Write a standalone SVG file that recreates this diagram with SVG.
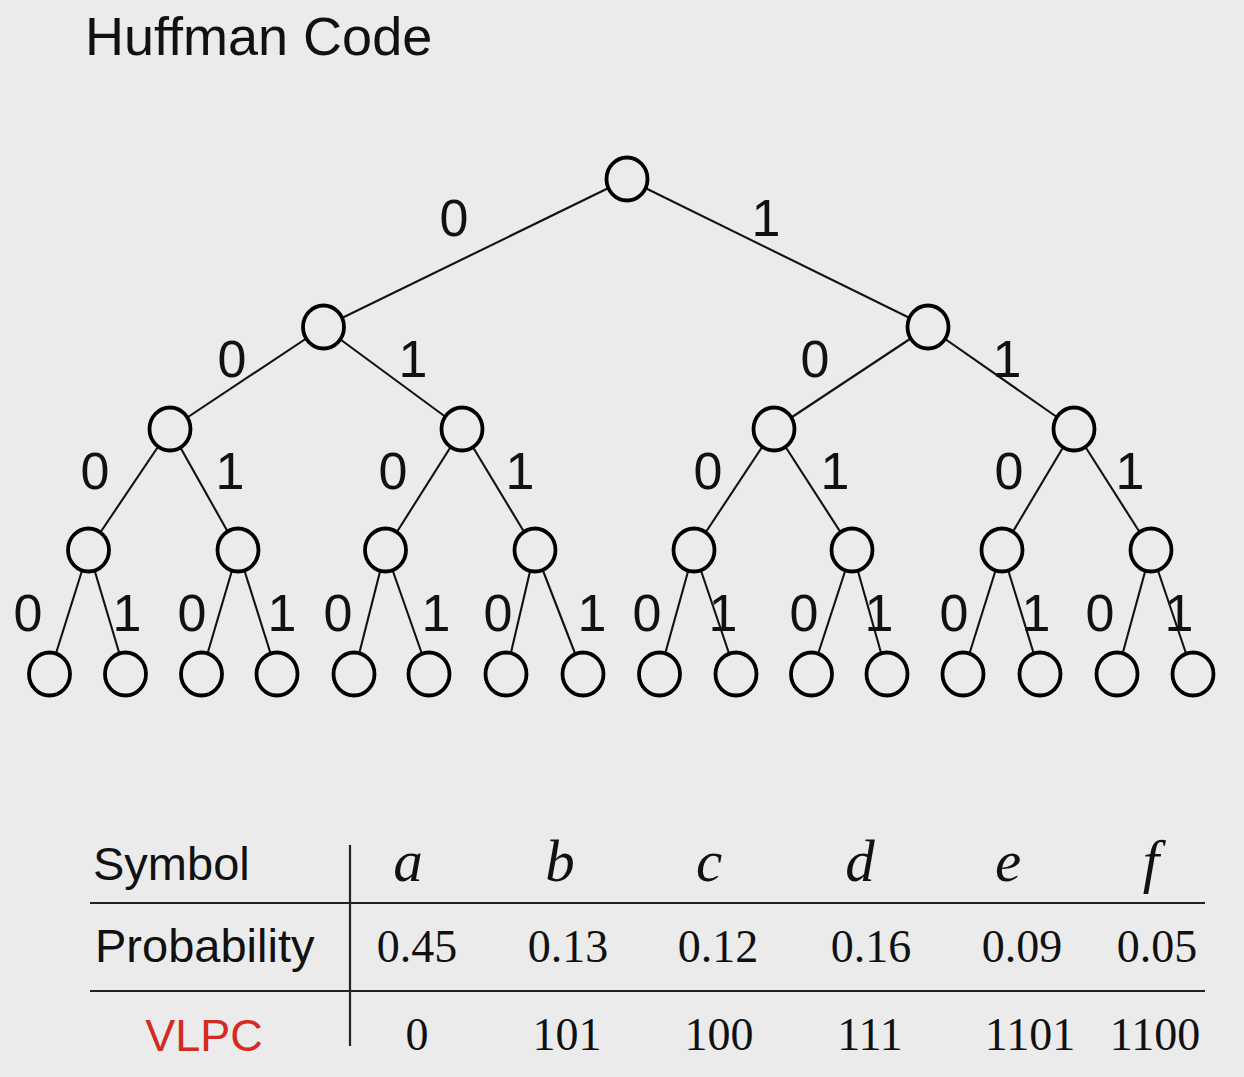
<svg xmlns="http://www.w3.org/2000/svg" width="1244" height="1077" viewBox="0 0 1244 1077">
<style>
.bg{fill:#ebebeb}
.edge{stroke:#111;stroke-width:2.1;fill:none}
.node{fill:#ebebeb;stroke:#000;stroke-width:3.8}
.lbl{font-family:"Liberation Sans",Arial,sans-serif;font-size:52px;fill:#111;text-anchor:middle}
.title{font-family:"Liberation Sans",Arial,sans-serif;font-size:54px;fill:#111}
.hdr{font-family:"Liberation Sans",Arial,sans-serif;font-size:47px;fill:#111}
.sym{font-family:"Liberation Serif","Times New Roman",serif;font-style:italic;font-size:59px;fill:#111;text-anchor:middle}
.num{font-family:"Liberation Serif","Times New Roman",serif;font-size:46px;fill:#111;text-anchor:middle}
.rule{stroke:#222;stroke-width:2.2}
</style>
<rect class="bg" x="0" y="0" width="1244" height="1077"/>
<text class="title" x="85" y="55">Huffman Code</text>
<g id="connectors">
<line class="edge" x1="627" y1="179" x2="323.5" y2="327"/>
<line class="edge" x1="627" y1="179" x2="928" y2="327"/>
<line class="edge" x1="323.5" y1="327" x2="170" y2="429"/>
<line class="edge" x1="323.5" y1="327" x2="462" y2="429"/>
<line class="edge" x1="928" y1="327" x2="774" y2="429"/>
<line class="edge" x1="928" y1="327" x2="1074" y2="429"/>
<line class="edge" x1="170" y1="429" x2="88.5" y2="550"/>
<line class="edge" x1="170" y1="429" x2="238" y2="550"/>
<line class="edge" x1="462" y1="429" x2="385.5" y2="550"/>
<line class="edge" x1="462" y1="429" x2="535" y2="550"/>
<line class="edge" x1="774" y1="429" x2="694" y2="550"/>
<line class="edge" x1="774" y1="429" x2="852" y2="550"/>
<line class="edge" x1="1074" y1="429" x2="1002" y2="550"/>
<line class="edge" x1="1074" y1="429" x2="1151" y2="550"/>
<line class="edge" x1="88.5" y1="550" x2="49.5" y2="674"/>
<line class="edge" x1="88.5" y1="550" x2="125.5" y2="674"/>
<line class="edge" x1="238" y1="550" x2="201.5" y2="674"/>
<line class="edge" x1="238" y1="550" x2="277" y2="674"/>
<line class="edge" x1="385.5" y1="550" x2="354" y2="674"/>
<line class="edge" x1="385.5" y1="550" x2="429" y2="674"/>
<line class="edge" x1="535" y1="550" x2="506" y2="674"/>
<line class="edge" x1="535" y1="550" x2="583" y2="674"/>
<line class="edge" x1="694" y1="550" x2="659.5" y2="674"/>
<line class="edge" x1="694" y1="550" x2="736" y2="674"/>
<line class="edge" x1="852" y1="550" x2="811.5" y2="674"/>
<line class="edge" x1="852" y1="550" x2="887" y2="674"/>
<line class="edge" x1="1002" y1="550" x2="963" y2="674"/>
<line class="edge" x1="1002" y1="550" x2="1040" y2="674"/>
<line class="edge" x1="1151" y1="550" x2="1117" y2="674"/>
<line class="edge" x1="1151" y1="550" x2="1193" y2="674"/>
</g>
<g id="edge-labels">
<text class="lbl" x="454" y="236">0</text>
<text class="lbl" x="766" y="236">1</text>
<text class="lbl" x="232" y="377">0</text>
<text class="lbl" x="413" y="377">1</text>
<text class="lbl" x="815" y="377">0</text>
<text class="lbl" x="1007" y="377">1</text>
<text class="lbl" x="95" y="489">0</text>
<text class="lbl" x="230" y="489">1</text>
<text class="lbl" x="393" y="489">0</text>
<text class="lbl" x="520" y="489">1</text>
<text class="lbl" x="708" y="489">0</text>
<text class="lbl" x="835" y="489">1</text>
<text class="lbl" x="1009" y="489">0</text>
<text class="lbl" x="1130" y="489">1</text>
<text class="lbl" x="28" y="631">0</text>
<text class="lbl" x="127" y="631">1</text>
<text class="lbl" x="192" y="631">0</text>
<text class="lbl" x="282" y="631">1</text>
<text class="lbl" x="338" y="631">0</text>
<text class="lbl" x="436" y="631">1</text>
<text class="lbl" x="498" y="631">0</text>
<text class="lbl" x="592" y="631">1</text>
<text class="lbl" x="647" y="631">0</text>
<text class="lbl" x="723" y="631">1</text>
<text class="lbl" x="804" y="631">0</text>
<text class="lbl" x="879" y="631">1</text>
<text class="lbl" x="954" y="631">0</text>
<text class="lbl" x="1036" y="631">1</text>
<text class="lbl" x="1100" y="631">0</text>
<text class="lbl" x="1179" y="631">1</text>
</g>
<g id="n0"><ellipse class="node" cx="627" cy="179" rx="20.5" ry="21.5"/></g>
<g id="n1"><ellipse class="node" cx="323.5" cy="327" rx="20.5" ry="21.5"/></g>
<g id="n2"><ellipse class="node" cx="928" cy="327" rx="20.5" ry="21.5"/></g>
<g id="n3"><ellipse class="node" cx="170" cy="429" rx="20.5" ry="21.5"/></g>
<g id="n4"><ellipse class="node" cx="462" cy="429" rx="20.5" ry="21.5"/></g>
<g id="n5"><ellipse class="node" cx="774" cy="429" rx="20.5" ry="21.5"/></g>
<g id="n6"><ellipse class="node" cx="1074" cy="429" rx="20.5" ry="21.5"/></g>
<g id="n7"><ellipse class="node" cx="88.5" cy="550" rx="20.5" ry="21.5"/></g>
<g id="n8"><ellipse class="node" cx="238" cy="550" rx="20.5" ry="21.5"/></g>
<g id="n9"><ellipse class="node" cx="385.5" cy="550" rx="20.5" ry="21.5"/></g>
<g id="n10"><ellipse class="node" cx="535" cy="550" rx="20.5" ry="21.5"/></g>
<g id="n11"><ellipse class="node" cx="694" cy="550" rx="20.5" ry="21.5"/></g>
<g id="n12"><ellipse class="node" cx="852" cy="550" rx="20.5" ry="21.5"/></g>
<g id="n13"><ellipse class="node" cx="1002" cy="550" rx="20.5" ry="21.5"/></g>
<g id="n14"><ellipse class="node" cx="1151" cy="550" rx="20.5" ry="21.5"/></g>
<g id="n15"><ellipse class="node" cx="49.5" cy="674" rx="20.5" ry="21.5"/></g>
<g id="n16"><ellipse class="node" cx="125.5" cy="674" rx="20.5" ry="21.5"/></g>
<g id="n17"><ellipse class="node" cx="201.5" cy="674" rx="20.5" ry="21.5"/></g>
<g id="n18"><ellipse class="node" cx="277" cy="674" rx="20.5" ry="21.5"/></g>
<g id="n19"><ellipse class="node" cx="354" cy="674" rx="20.5" ry="21.5"/></g>
<g id="n20"><ellipse class="node" cx="429" cy="674" rx="20.5" ry="21.5"/></g>
<g id="n21"><ellipse class="node" cx="506" cy="674" rx="20.5" ry="21.5"/></g>
<g id="n22"><ellipse class="node" cx="583" cy="674" rx="20.5" ry="21.5"/></g>
<g id="n23"><ellipse class="node" cx="659.5" cy="674" rx="20.5" ry="21.5"/></g>
<g id="n24"><ellipse class="node" cx="736" cy="674" rx="20.5" ry="21.5"/></g>
<g id="n25"><ellipse class="node" cx="811.5" cy="674" rx="20.5" ry="21.5"/></g>
<g id="n26"><ellipse class="node" cx="887" cy="674" rx="20.5" ry="21.5"/></g>
<g id="n27"><ellipse class="node" cx="963" cy="674" rx="20.5" ry="21.5"/></g>
<g id="n28"><ellipse class="node" cx="1040" cy="674" rx="20.5" ry="21.5"/></g>
<g id="n29"><ellipse class="node" cx="1117" cy="674" rx="20.5" ry="21.5"/></g>
<g id="n30"><ellipse class="node" cx="1193" cy="674" rx="20.5" ry="21.5"/></g>
<g id="table">
<line class="rule" x1="90" y1="903" x2="1205" y2="903"/>
<line class="rule" x1="90" y1="991" x2="1205" y2="991"/>
<line class="rule" x1="350" y1="845" x2="350" y2="1046"/>
<text class="hdr" x="93" y="880">Symbol</text>
<text class="hdr" x="95" y="962">Probability</text>
<text class="hdr" x="204" y="1051" text-anchor="middle" style="fill:#d42a1f;font-size:45px">VLPC</text>
<text class="sym" x="408" y="881">a</text>
<text class="sym" x="560" y="881">b</text>
<text class="sym" x="709" y="881">c</text>
<text class="sym" x="860" y="881">d</text>
<text class="sym" x="1008" y="881">e</text>
<text class="sym" x="1151" y="881">f</text>
<text class="num" x="417" y="962">0.45</text>
<text class="num" x="568" y="962">0.13</text>
<text class="num" x="718" y="962">0.12</text>
<text class="num" x="871" y="962">0.16</text>
<text class="num" x="1022" y="962">0.09</text>
<text class="num" x="1157" y="962">0.05</text>
<text class="num" x="417" y="1050">0</text>
<text class="num" x="567" y="1050">101</text>
<text class="num" x="719" y="1050">100</text>
<text class="num" x="870" y="1050">111</text>
<text class="num" x="1030" y="1050">1101</text>
<text class="num" x="1155" y="1050">1100</text>
</g>
</svg>
